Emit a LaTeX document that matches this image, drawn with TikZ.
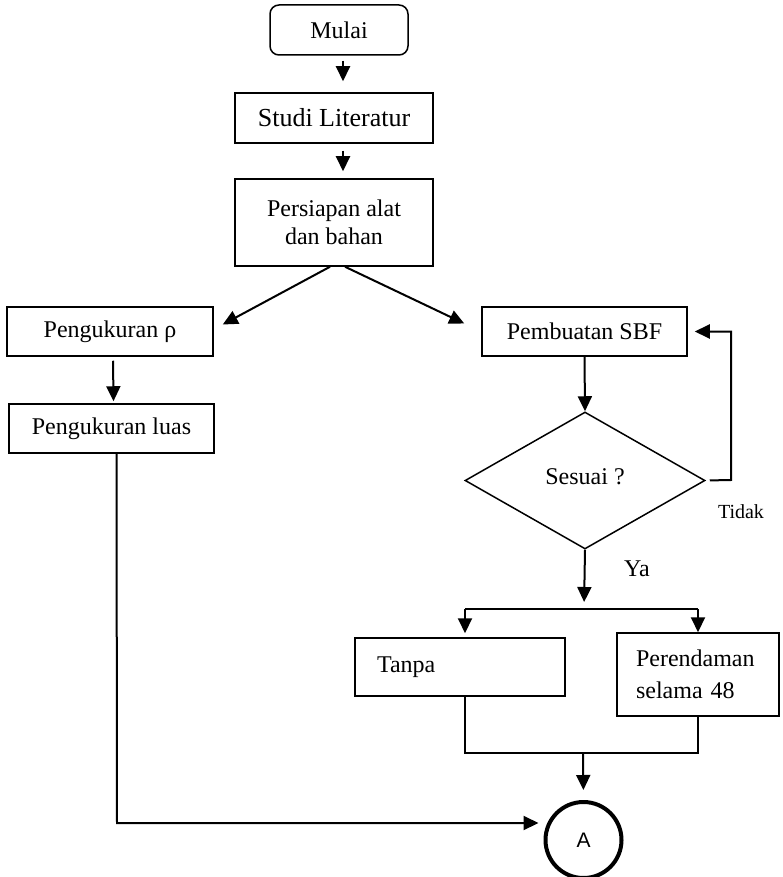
\documentclass[tikz,border=0pt]{standalone}
\usepackage{fontspec}
\setmainfont{Liberation Serif}
\newfontfamily\sansA{Liberation Sans}
\usetikzlibrary{arrows.meta,shapes.geometric}

\begin{document}
\begin{tikzpicture}[x=1pt,y=-1pt,line width=1.5pt,
box/.style={draw,rectangle,inner sep=0pt,font=\fontsize{24}{28}\selectfont,align=center},
arr/.style={line width=2pt,-{Triangle[length=15pt,width=14pt]}}]
\useasboundingbox(0,0) rectangle (783,877);
% kolom tengah
\node[box,rounded corners=9pt,minimum width=138pt,minimum height=50pt](start)at(339,30){Mulai};
\node[box,minimum width=198pt,minimum height=50pt,font=\fontsize{26}{30}\selectfont](lit)at(334,118){Studi Literatur};
\node[box,minimum width=198pt,minimum height=87pt](prep)at(334,222.5){Persiapan alat\\dan bahan};
% kiri
\node[box,minimum width=206pt,minimum height=49pt](rho)at(110,331.5){Pengukuran ρ};
\node[box,minimum width=205pt,minimum height=49pt](luas)at(111.5,428.5){Pengukuran luas};
% kanan
\node[box,minimum width=205pt,minimum height=49pt](sbf)at(584.5,331.5){Pembuatan SBF};
\node[box,diamond,minimum width=240pt,minimum height=137pt](dec)at(585,480.5){\raisebox{8pt}{Sesuai ?}};
\node[font=\fontsize{20}{24}\selectfont](no)at(741,512){Tidak};
\node[font=\fontsize{24}{28}\selectfont](yes)at(637,569){Ya};
\node[box,inner xsep=22pt,text width=166pt,align=left,minimum height=58pt](tanpa)at(460,667){Tanpa};
\node[box,inner xsep=19pt,text width=124pt,align=left,minimum height=83pt,font=\fontsize{24}{32}\selectfont](soak)at(698,674.5){Perendaman\\selama 48};
\node[draw,circle,line width=4pt,minimum size=76pt,inner sep=0pt,font=\sansA\fontsize{21}{24}\selectfont](A)at(583.5,840){A};
\coordinate(bend)at(117,823);\coordinate(loop)at(731,480);
\coordinate(split)at(584,609);\coordinate(tl)at(465,609);\coordinate(tr)at(698,609);
\coordinate(mergeL)at(465,753);\coordinate(mergeR)at(698,753);\coordinate(merge)at(583,753);
% panah
\draw[arr,shorten <=5pt,shorten >=11pt]([xshift=4pt]start.south)--([xshift=9pt]lit.north);
\draw[arr,shorten <=7pt,shorten >=7pt]([xshift=9pt]lit.south)--([xshift=9pt]prep.north);
\draw[arr]([xshift=-4pt]prep.south)--([xshift=9pt,yshift=7pt]rho.east);
\draw[arr]([xshift=11pt]prep.south)--([xshift=-17pt,yshift=8pt]sbf.west);
\draw[arr,shorten <=4pt,shorten >=2pt]([xshift=3pt]rho.south)--([xshift=2pt]luas.north);
\draw[arr,shorten >=5pt]([xshift=5pt]luas.south)--(bend)--([yshift=17pt]A.west);
\draw[arr](sbf.south)--(dec.north);
\draw[arr,shorten <=4pt](dec.east)--(loop)|-([xshift=7pt]sbf.east);
\draw[arr,shorten >=7pt](dec.south)--(split);
\draw[line width=2pt](tl)--(tr);
\draw[arr,shorten >=4pt](tl)--(tl|-tanpa.north);
\draw[arr](tr)--(soak.north);
\draw(tl|-tanpa.south)--(mergeL)--(mergeR)--(soak.south);
\draw[arr,shorten >=10pt](merge)--(A.north);
\end{tikzpicture}
\end{document}
